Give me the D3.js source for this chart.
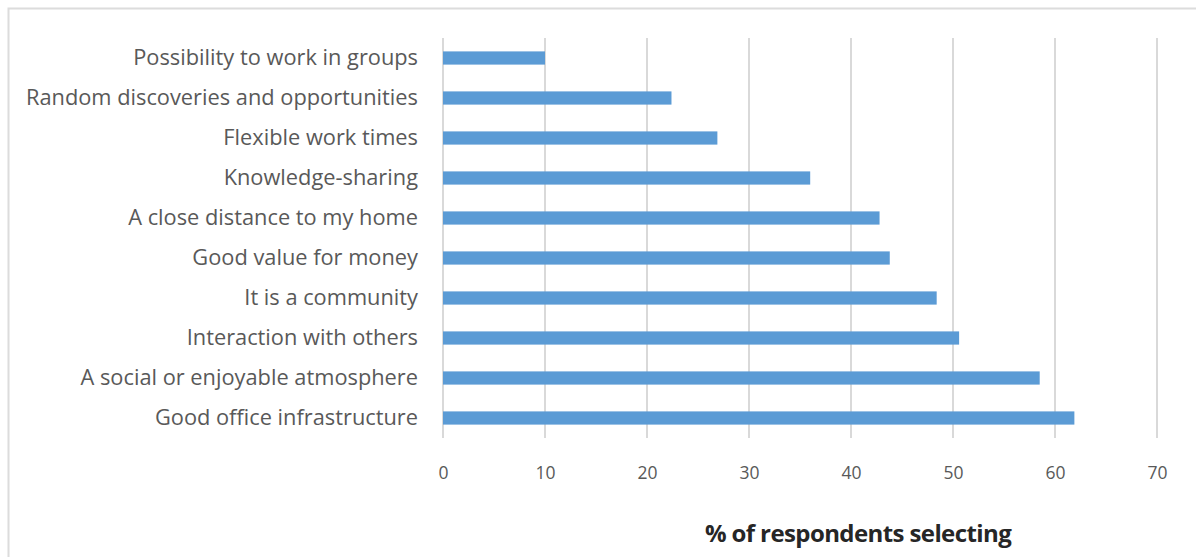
<!DOCTYPE html>
<html>
<head>
<meta charset="utf-8">
<script src="https://cdn.jsdelivr.net/npm/d3@7"></script>
<style>
  html, body { margin: 0; padding: 0; background: #fff; }
  svg { display: block; }
</style>
</head>
<body>
<script>
// Reasons for choosing a coworking space (% of respondents selecting)
const categories = [
  "Possibility to work in groups",
  "Random discoveries and opportunities",
  "Flexible work times",
  "Knowledge-sharing",
  "A close distance to my home",
  "Good value for money",
  "It is a community",
  "Interaction with others",
  "A social or enjoyable atmosphere",
  "Good office infrastructure"
];
const values = [10.0, 22.4, 26.9, 36.0, 42.8, 43.8, 48.4, 50.6, 58.5, 61.9];
const xTicks = [0, 10, 20, 30, 40, 50, 60, 70];
const axisTitle = "% of respondents selecting";

const W = 1196, H = 557;
const margin = { top: 38, right: 38, bottom: 119, left: 443 };
const font = "'Open Sans', Lato, sans-serif";

const svg = d3.select("body").append("svg")
  .attr("width", W).attr("height", H);

// chart frame (continues past the right and bottom edges)
svg.append("rect")
  .attr("x", 8.5).attr("y", 8.5)
  .attr("width", W + 100).attr("height", H + 100)
  .attr("fill", "#fff").attr("stroke", "#dcdcdc").attr("stroke-width", 2);

const x = d3.scaleLinear().domain([0, 70]).range([margin.left, 1157]);
const y = d3.scaleBand().domain(categories)
  .range([margin.top, H - margin.bottom]).paddingInner(0.67).paddingOuter(0.335);

// vertical gridlines
svg.append("g").selectAll("line").data(xTicks).join("line")
  .attr("x1", d => x(d)).attr("x2", d => x(d))
  .attr("y1", margin.top).attr("y2", H - margin.bottom)
  .attr("stroke", "#d9d9d9").attr("stroke-width", 2);

// bars
svg.append("g").selectAll("rect").data(values).join("rect")
  .attr("x", x(0))
  .attr("y", (d, i) => y(categories[i]))
  .attr("width", d => x(d) - x(0))
  .attr("height", y.bandwidth())
  .attr("fill", "#5b9bd5");

// category axis labels
const yAxis = d3.axisLeft(y).tickSize(0).tickPadding(25);
const gy = svg.append("g").attr("transform", `translate(${margin.left},0)`).call(yAxis);
gy.select(".domain").remove();
gy.selectAll("text")
  .attr("font-family", font).attr("font-size", 21.8)
  .attr("fill", "#595959");

// value axis labels
const xAxis = d3.axisBottom(x).tickValues(xTicks).tickSize(0).tickPadding(29);
const gx = svg.append("g").attr("transform", `translate(0,${H - margin.bottom})`).call(xAxis);
gx.select(".domain").remove();
gx.selectAll("text")
  .attr("font-family", font).attr("font-size", 17.5)
  .attr("fill", "#595959");

// axis title
svg.append("text")
  .attr("x", 858).attr("y", 542)
  .attr("text-anchor", "middle")
  .attr("font-family", font).attr("font-size", 24).attr("font-weight", "bold")
  .attr("letter-spacing", -0.6)
  .attr("fill", "#262626")
  .text(axisTitle);
</script>
</body>
</html>
